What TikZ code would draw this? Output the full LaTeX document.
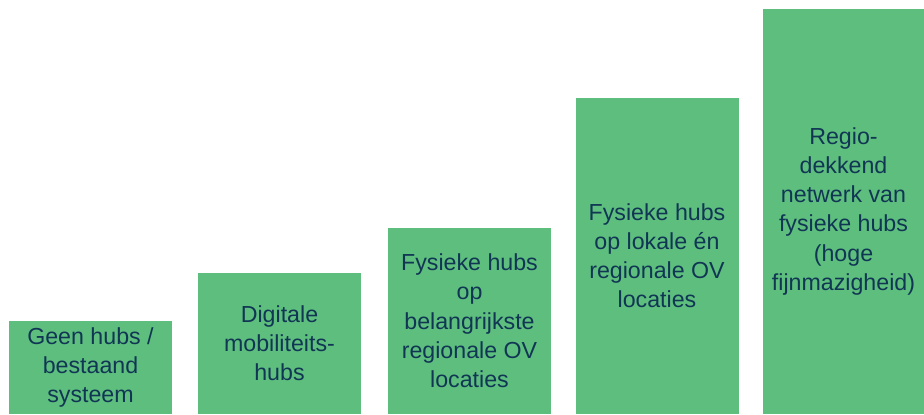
\documentclass[tikz,border=0pt]{standalone}
\usepackage{fontspec}
\setmainfont{Liberation Sans}
\usepackage{tikz}
\usepackage{xcolor}
\definecolor{hubgreen}{RGB}{94,190,126}
\definecolor{hubtext}{RGB}{16,54,84}

\begin{document}
\begin{tikzpicture}[x=0.75pt,y=0.75pt,
  bar/.style={fill=hubgreen, text=hubtext, anchor=south, align=center, inner sep=0pt,
    minimum width=122.25pt, font=\fontsize{17.4}{21.9}\selectfont}]
  \useasboundingbox (0,0) rectangle (924,414);

  % Steps, low to high
  \node[bar, minimum height=69.75pt] (b1) at (90.5,0) {Geen hubs /\\bestaand\\systeem};
  \node[bar, minimum height=105.75pt] (b2) at (279.5,0) {Digitale\\mobiliteits-\\hubs};
  \node[bar, minimum height=139.5pt] (b3) at (469.5,0) {Fysieke hubs\\op\\belangrijkste\\regionale OV\\locaties};
  \node[bar, minimum height=237pt] (b4) at (657,0) {Fysieke hubs\\op lokale én\\regionale OV\\locaties};
  \node[bar, minimum height=303.75pt, minimum width=120.75pt] (b5) at (843.5,0) {Regio-\\dekkend\\netwerk van\\fysieke hubs\\(hoge\\fijnmazigheid)};
\end{tikzpicture}
\end{document}
